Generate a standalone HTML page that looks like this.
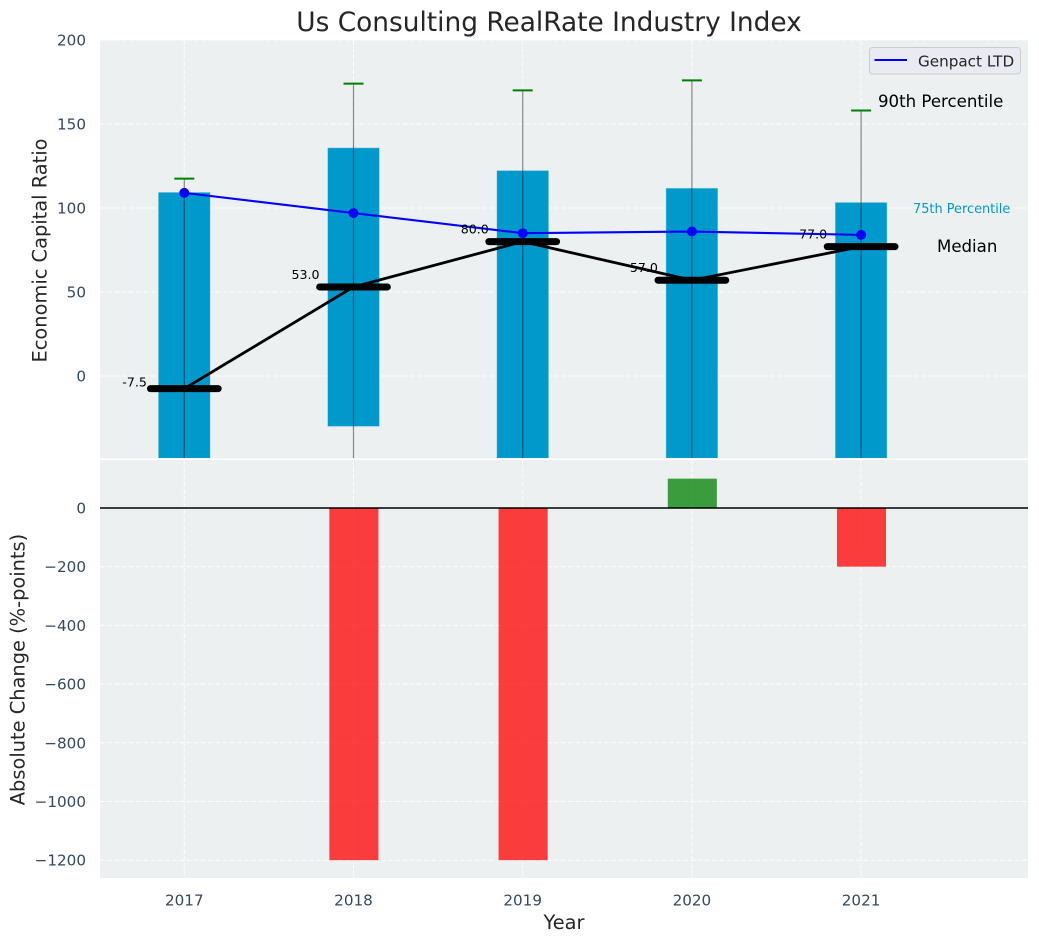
<!DOCTYPE html>
<html lang="en">
<head>
<meta charset="utf-8">
<title>Us Consulting RealRate Industry Index</title>
<style>
html,body{margin:0;padding:0;background:#fff;width:1039px;height:942px;overflow:hidden}
svg{display:block;font-family:"DejaVu Sans","Liberation Sans",sans-serif}
</style>
</head>
<body>
<svg id="chart" xmlns="http://www.w3.org/2000/svg" width="1039" height="942" viewBox="0 0 1039 942">
<defs>
<clipPath id="clip-top"><rect x="100" y="40" width="928" height="418"/></clipPath>
<clipPath id="clip-bottom"><rect x="100" y="460" width="928" height="418"/></clipPath>
</defs>
<rect x="100" y="40" width="928" height="418.5" fill="#ecf0f1"/>
<rect x="100" y="460" width="928" height="418" fill="#ecf0f1"/>
<g id="grid"></g>
<g id="top" clip-path="url(#clip-top)"></g>
<g id="bottom" clip-path="url(#clip-bottom)"></g>
<g id="labels"></g>
<text x="549" y="31" text-anchor="middle" font-size="26.4px" fill="#262626">Us Consulting RealRate Industry Index</text>
<text transform="translate(46.5 250.5) rotate(-90)" text-anchor="middle" font-size="19.4px" fill="#262626">Economic Capital Ratio</text>
<text transform="translate(24.5 669.5) rotate(-90)" text-anchor="middle" font-size="19.4px" fill="#262626">Absolute Change (%-points)</text>
<text x="564" y="929" text-anchor="middle" font-size="19.4px" fill="#262626">Year</text>
<text x="878" y="107" font-size="16.6px" fill="#000">90th Percentile</text>
<text x="913" y="213" font-size="12.9px" fill="#0099cc">75th Percentile</text>
<text x="937" y="252" font-size="16.6px" fill="#000">Median</text>
<g>
<rect x="869.5" y="47.5" width="151" height="26.5" rx="3" fill="#eaeaf2" stroke="#cccccc" stroke-width="1"/>
<line x1="874.5" x2="907" y1="60" y2="60" stroke="#0000ff" stroke-width="2"/>
<text x="918" y="66.5" font-size="15.2px" fill="#262626">Genpact LTD</text>
</g>
</svg>
<script>
const years = [2017, 2018, 2019, 2020, 2021];
const p90 = [117.5, 174, 170, 176, 158];
const p75 = [109.3, 135.8, 122.3, 111.8, 103.3];
const p25 = [-60, -30, -70, -60, -60];
const p10 = [-90, -100, -120, -110, -100];
const median = [-7.5, 53, 80, 57, 77];
const genpact = [109, 97, 85, 86, 84];
const absChange = [null, -1200, -1200, 100, -200];
const topTicks = [0, 50, 100, 150, 200];
const bottomTicks = [0, -200, -400, -600, -800, -1000, -1200];

const x = v => 184.3 + (v - 2017) * 169.2;
const yTop = v => 376 - v * 1.68;
const yBot = v => 508 - v * 0.2935;
const NS = 'http://www.w3.org/2000/svg';

function make(parent, tag, attrs, text) {
  const el = document.createElementNS(NS, tag);
  for (const k in attrs) el.setAttribute(k, attrs[k]);
  if (text !== undefined) el.textContent = text;
  parent.appendChild(el);
  return el;
}
const gGrid = document.getElementById('grid');
const gTop = document.getElementById('top');
const gBottom = document.getElementById('bottom');
const gLabels = document.getElementById('labels');
const gridStyle = {stroke: '#ffffff', 'stroke-width': 1, 'stroke-dasharray': '5 2.2', opacity: 0.9};
const fmt = v => (v < 0 ? '\u2212' + Math.abs(v) : String(v));

topTicks.forEach(t => {
  const g = make(gGrid, 'line', Object.assign({x1: 100, x2: 1028, y1: yTop(t), y2: yTop(t)}, gridStyle));
  
  
  const l = make(gLabels, 'text', {x: 86, y: yTop(t) + 5.5, 'text-anchor': 'end', 'font-size': '15.2px', fill: '#34495e'}, fmt(t));
  
  
});
bottomTicks.forEach(t => {
  const g = make(gGrid, 'line', Object.assign({x1: 100, x2: 1028, y1: yBot(t), y2: yBot(t)}, gridStyle));
  
  
  const l = make(gLabels, 'text', {x: 86, y: yBot(t) + 5.5, 'text-anchor': 'end', 'font-size': '15.2px', fill: '#34495e'}, fmt(t));
  
  
});
years.forEach(yr => {
  const a = make(gGrid, 'line', Object.assign({x1: x(yr), x2: x(yr), y1: 40, y2: 458}, gridStyle));
  
  
  const b = make(gGrid, 'line', Object.assign({x1: x(yr), x2: x(yr), y1: 460, y2: 878}, gridStyle));
  
  
  const l = make(gLabels, 'text', {x: x(yr), y: 905.5, 'text-anchor': 'middle', 'font-size': '15.2px', fill: '#34495e'}, String(yr));
  
  
});

years.forEach((yr, i) => {
  const bx = x(yr) - 0.153 * 169.2;
  const r = make(gTop, 'rect', {x: bx, y: yTop(p75[i]), width: 0.306 * 169.2, height: yTop(p25[i]) - yTop(p75[i]), fill: '#0099cc', stroke: '#9fd3e6', 'stroke-width': 0.5});
  
  
});
years.forEach((yr, i) => {
  const w = make(gTop, 'line', {x1: x(yr), x2: x(yr), y1: yTop(p90[i]), y2: yTop(p10[i]), stroke: '#000', 'stroke-opacity': 0.45, 'stroke-width': 1.2});
  
  
  const c = make(gTop, 'line', {x1: x(yr) - 10, x2: x(yr) + 10, y1: yTop(p90[i]), y2: yTop(p90[i]), stroke: '#008000', 'stroke-width': 2});
  
  
});
const medLine = make(gTop, 'polyline', {points: years.map((yr, i) => x(yr) + ',' + yTop(median[i])).join(' '), fill: 'none', stroke: '#000', 'stroke-width': 2.8});


years.forEach((yr, i) => {
  const m = make(gTop, 'line', {x1: x(yr) - 0.2 * 169.2, x2: x(yr) + 0.2 * 169.2, y1: yTop(median[i]), y2: yTop(median[i]), stroke: '#000', 'stroke-width': 7, 'stroke-linecap': 'round'});
  
  
});
const blue = make(gTop, 'polyline', {points: years.map((yr, i) => x(yr) + ',' + yTop(genpact[i])).join(' '), fill: 'none', stroke: '#0000ff', 'stroke-width': 2.1});


years.forEach((yr, i) => {
  const p = make(gTop, 'circle', {cx: x(yr), cy: yTop(genpact[i]), r: 5, fill: '#0000ff'});
  
  
});
years.forEach((yr, i) => {
  const lift = median[i] < 0 ? 4 : 7.5;
  const t = make(gTop, 'text', {x: x(yr) - 62, y: yTop(median[i] + lift) + 4.5, 'font-size': '12.6px', fill: '#000'}, median[i].toFixed(1));
  
  
});

years.forEach((yr, i) => {
  const v = absChange[i];
  if (v === null) return;
  const top = Math.min(yBot(v), yBot(0));
  const h = Math.abs(yBot(v) - yBot(0));
  const b = make(gBottom, 'rect', {x: x(yr) - 0.145 * 169.2 + 0.4, y: top, width: 0.29 * 169.2, height: h, fill: v < 0 ? '#ff0000' : '#008000', 'fill-opacity': 0.75});
  
  
});
const zero = make(gBottom, 'line', {x1: 100, x2: 1028, y1: yBot(0), y2: yBot(0), stroke: '#000', 'stroke-width': 1.4});


</script>
</body>
</html>
